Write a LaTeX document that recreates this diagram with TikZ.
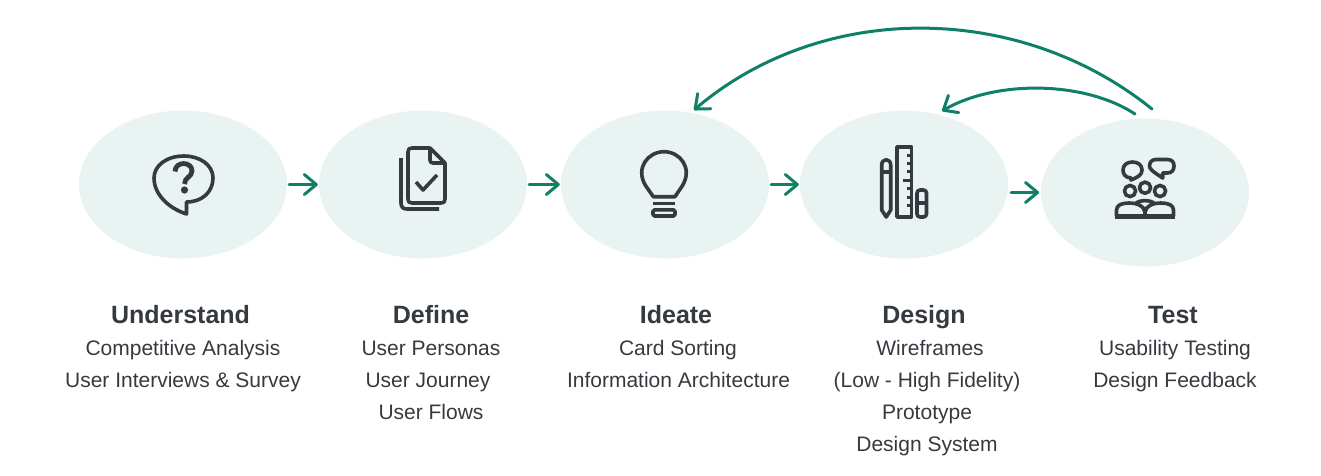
\documentclass[tikz,border=0pt]{standalone}
\usepackage{fontspec}
\setmainfont{Liberation Sans}
\usetikzlibrary{shapes.geometric,arrows.meta,bending}
\definecolor{blob}{HTML}{E9F3F1}
\definecolor{flow}{HTML}{0F8068}
\definecolor{ink}{HTML}{343A40}
\tikzset{
  stage/.style={ellipse,fill=blob,minimum width=208pt,minimum height=148pt,inner sep=0pt},
  flowline/.style={draw=flow,line width=3pt,line cap=round,line join=round,
    -{Straight Barb[length=12pt,width=20pt,line cap=round,line join=round]}},
  icon/.style={draw=ink,line width=3.6pt,line join=round},
  heading/.style={font=\fontsize{25}{28}\selectfont\bfseries,text=ink,inner sep=0pt,anchor=base},
  item/.style={font=\fontsize{21}{25}\selectfont,text=ink,inner sep=0pt,anchor=base},
}
\begin{document}
\begin{tikzpicture}[x=1pt,y=-1pt]
\useasboundingbox (0,0) rectangle (1321,475);
% stages
\node[stage] (e1) at (183,184.5) {};
\node[stage] (e2) at (423,184.5) {};
\node[stage] (e3) at (665,184.5) {};
\node[stage] (e4) at (904,184.5) {};
\node[stage] (e5) at (1145,192.5) {};
% connectors
\draw[flowline,shorten <=2pt,shorten >=1pt] (e1.east) -- (e2.west);
\draw[flowline,shorten <=2pt,shorten >=1pt] (e2.east) -- (e3.west);
\draw[flowline,shorten <=2pt,shorten >=1pt] (e3.east) -- (e4.west);
\coordinate (a4) at (1011,192.5);
\coordinate (b4) at (1039,192.5);
\draw[flowline] (a4) -- (b4);
\coordinate (s1) at (1152,109);
\coordinate (t1) at (694,110);
\coordinate (s2) at (1135,114);
\coordinate (t2) at (942,111);
\draw[flowline] (s1) .. controls (1018,1) and (820,1) .. (t1);
\draw[flowline] (s2) .. controls (1085,81) and (995,79) .. (t2);
% icon 1
\draw[icon] (186.5,214) -- (186.5,202) .. controls (202,202) and (213,192) .. (213,178)
  .. controls (213,165) and (200,156) .. (184,156)
  .. controls (166,156) and (154,166) .. (154,178)
  .. controls (154,194) and (168,208) .. cycle;
\draw[icon,line width=4.8pt] (175,171.5) .. controls (175,161) and (192,161) .. (192,171)
  .. controls (192,177) and (184.5,177) .. (184.5,184);
\fill[ink] (184.5,190) circle (3.6pt);
% icon 2
\draw[icon] (430,148) -- (412,148) .. controls (409,148) and (408,149) .. (408,152) -- (408,199)
  .. controls (408,202) and (409,203) .. (412,203) -- (441,203)
  .. controls (444,203) and (445,202) .. (445,199) -- (445,163) -- (430,148) -- (430,160)
  .. controls (430,162) and (431,163) .. (433,163) -- (445,163);
\draw[icon] (401,158) -- (401,203) .. controls (401,207) and (403,209) .. (407,209) -- (439,209);
\draw[icon] (416,182) -- (423,190) -- (437,175);
% icon 3
\draw[icon] (653.3,196.7) -- (645.5,185.5) .. controls (635,168) and (648,151.7) .. (664,151.7)
  .. controls (680,151.7) and (693,168) .. (682.5,185.5) -- (675,196.7) -- cycle;
\draw[icon] (653,203.3) -- (675,203.3);
\draw[icon,rounded corners=1.5pt] (653,209.8) rectangle (675,216);
% icon 4
\draw[icon] (881.7,210) -- (881.7,165) .. controls (881.7,158) and (890.7,158) .. (890.7,165) -- (890.7,210) -- (886.2,217) -- cycle;
\draw[icon] (881.7,171.7) -- (890.7,171.7);
\draw[icon] (897,147) rectangle (911.5,217);
\foreach \ty in {155,163,171,188,197,205} \draw[icon,line width=3pt] (906.5,\ty) -- (911.5,\ty);
\draw[icon,line width=3pt] (903,180) -- (911.5,180);
\draw[icon,rounded corners=3pt] (917,190) rectangle (926.5,217);
\draw[icon] (917,203) -- (926.5,203);
% icon 5
\draw[icon] (1131,180) -- (1131,178) .. controls (1125,177.5) and (1123,174) .. (1123,170)
  .. controls (1123,165) and (1127,162) .. (1132.5,162) .. controls (1138,162) and (1142,165) .. (1142,170)
  .. controls (1142,175) and (1138,177) .. cycle;
\draw[icon] (1162.7,178) -- (1162.7,173) -- (1167,173) .. controls (1172,173) and (1174,170) .. (1174,166)
  .. controls (1174,162) and (1172,159.5) .. (1167,159.5) -- (1156,159.5)
  .. controls (1152,159.5) and (1149.5,162) .. (1149.5,166) .. controls (1149.5,169) and (1152,171) .. cycle;
\draw[icon] (1130,191) circle (5.6pt);
\draw[icon] (1145,187.7) circle (5.6pt);
\draw[icon] (1160,191) circle (5.6pt);
\draw[icon] (1116.5,216) -- (1116.5,210) .. controls (1116.5,205) and (1122,203) .. (1129,203)
  .. controls (1137,203) and (1144,206) .. (1144.5,211) -- (1145.5,211) .. controls (1146,206) and (1153,203) .. (1161,203)
  .. controls (1168,203) and (1173.5,205) .. (1173.5,210) -- (1173.5,216);
\draw[icon] (1135,204) .. controls (1139,199.5) and (1151,199.5) .. (1155,204);
\draw[icon] (1145,208) -- (1145,216);
\draw[icon,line width=4.5pt] (1115,216.5) -- (1175,216.5);
% labels
\node[heading] (h1) at (180.5,323) {Understand};
\node[item] (l11) at (183,355) {Competitive Analysis};
\node[item] (l12) at (183,387) {User Interviews \& Survey};
\node[heading] (h2) at (431,323) {Define};
\node[item] (l21) at (431,355) {User Personas};
\node[item] (l22) at (428,387) {User Journey};
\node[item] (l23) at (431,419) {User Flows};
\node[heading] (h3) at (676,323) {Ideate};
\node[item] (l31) at (678,355) {Card Sorting};
\node[item] (l32) at (678.5,387) {Information Architecture};
\node[heading] (h4) at (924,323) {Design};
\node[item] (l41) at (930,355) {Wireframes};
\node[item] (l42) at (927,387) {(Low - High Fidelity)};
\node[item] (l43) at (927,419) {Prototype};
\node[item] (l44) at (927,451) {Design System};
\node[heading] (h5) at (1173,323) {Test};
\node[item] (l51) at (1175,355) {Usability Testing};
\node[item] (l52) at (1175,387) {Design Feedback};
\end{tikzpicture}
\end{document}
